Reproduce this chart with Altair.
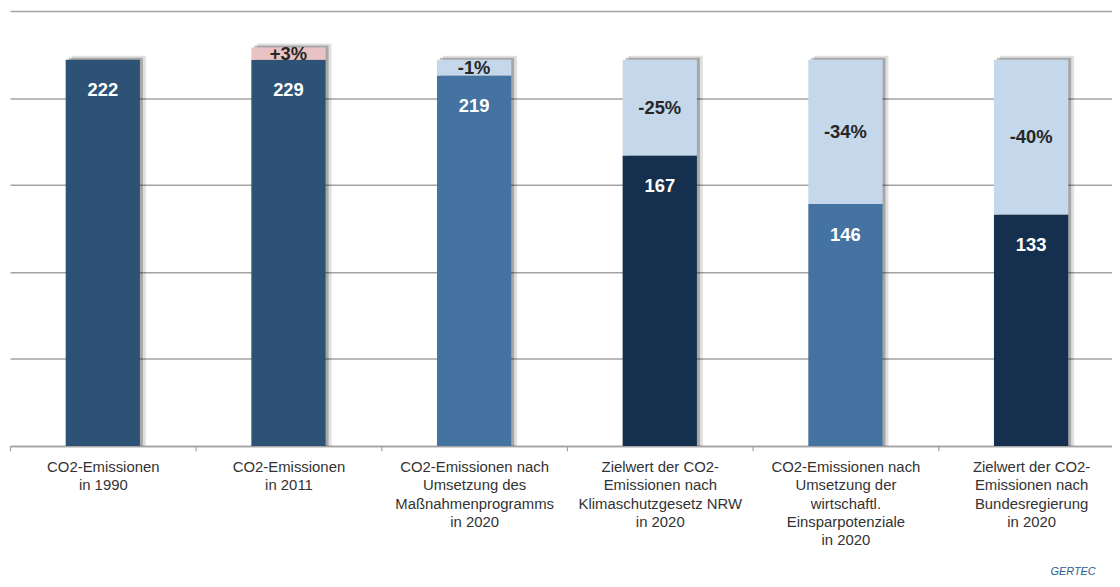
import altair as alt
import pandas as pd

# ---- data ----
categories = [
    "CO2-Emissionen|in 1990",
    "CO2-Emissionen|in 2011",
    "CO2-Emissionen nach|Umsetzung des|Maßnahmenprogramms|in 2020",
    "Zielwert der CO2-|Emissionen nach|Klimaschutzgesetz NRW|in 2020",
    "CO2-Emissionen nach|Umsetzung der|wirtschaftl.|Einsparpotenziale|in 2020",
    "Zielwert der CO2-|Emissionen nach|Bundesregierung|in 2020",
]
base_values = [222, 222, 213, 167, 139, 133]      # height of the main (dark) segment
top_values = [222, 229, 222, 222, 222, 222]       # top of the whole bar
value_labels = ["222", "229", "219", "167", "146", "133"]
pct_labels = ["", "+3%", "-1%", "-25%", "-34%", "-40%"]
base_colors = ["#2E5276", "#2E5276", "#4472A1", "#15304F", "#4472A1", "#15304F"]
cap_colors = ["#C4D7EB", "#E9C3C3", "#C4D7EB", "#C4D7EB", "#C4D7EB", "#C4D7EB"]

df = pd.DataFrame({
    "cat": categories,
    "base": base_values,
    "top": top_values,
    "vlabel": value_labels,
    "plabel": pct_labels,
    "bcolor": base_colors,
    "ccolor": cap_colors,
})
df["mid"] = (df["base"] + df["top"]) / 2

FONT = "Liberation Sans"
GRID = "#A3A3A3"

x_enc = alt.X(
    "cat:N",
    sort=categories,
    scale=alt.Scale(range=[0, 1122], paddingInner=0, paddingOuter=0),
    axis=alt.Axis(
        title=None,
        labelAngle=0,
        labelExpr="split(datum.label, '|')",
        labelFont=FONT,
        labelFontSize=15,
        labelColor="#333333",
        labelPadding=9,
        labelLineHeight=18.3,
        labelLimit=260,
        labelOverlap=False,
        tickBand="extent",
        tickColor=GRID,
        tickSize=5,
        tickWidth=1.2,
        domainColor=GRID,
        domainWidth=1.5,
    ),
)
y_scale = alt.Scale(domain=[0, 250], nice=False)
y_axis = alt.Axis(
    title=None, labels=False, ticks=False, domain=False,
    values=[0, 50, 100, 150, 200, 250], grid=True,
    gridColor=GRID, gridWidth=1.5,
)

base = alt.Chart(df)

shadow1 = base.mark_bar(
    width=alt.RelativeBandSize(0.4), color="#000000", opacity=0.12,
    xOffset=6, yOffset=-4,
).encode(x=x_enc, y=alt.Y("top:Q", scale=y_scale, axis=y_axis), y2=alt.datum(0))

shadow2 = base.mark_bar(
    width=alt.RelativeBandSize(0.4), color="#000000", opacity=0.25,
    xOffset=3, yOffset=-2,
).encode(x=x_enc, y=alt.Y("top:Q", scale=y_scale, axis=y_axis), y2=alt.datum(0))

caps = base.transform_filter("datum.top > datum.base").mark_bar(
    width=alt.RelativeBandSize(0.4)
).encode(
    x=x_enc,
    y=alt.Y("top:Q", scale=y_scale, axis=y_axis),
    y2="base:Q",
    color=alt.Color("ccolor:N", scale=None),
)

bars = base.mark_bar(width=alt.RelativeBandSize(0.4)).encode(
    x=x_enc,
    y=alt.Y("base:Q", scale=y_scale, axis=y_axis),
    y2=alt.datum(0),
    color=alt.Color("bcolor:N", scale=None),
)

vtext = base.mark_text(
    font=FONT, fontSize=18.5, fontWeight="bold", color="#FFFFFF",
    baseline="middle", dy=31,
).encode(x=x_enc, y=alt.Y("base:Q", scale=y_scale), text="vlabel:N")

ptext = base.transform_filter("datum.plabel != ''").mark_text(
    font=FONT, fontSize=18.5, fontWeight="bold", color="#262626",
    baseline="middle",
).encode(x=x_enc, y=alt.Y("mid:Q", scale=y_scale), text="plabel:N")

logo = alt.Chart(pd.DataFrame({"t": ["GERTEC"]})).mark_text(
    font=FONT, fontSize=11, fontStyle="italic", color="#2A5C8F", align="left",
    baseline="middle",
).encode(x=alt.value(1048), y=alt.value(565), text="t:N")

chart = alt.layer(shadow1, shadow2, bars, caps, vtext, ptext, logo).properties(
    width=1110,
    height=438,
    autosize=alt.AutoSizeParams(type="none"),
    padding={"left": 2, "top": 1, "right": 0, "bottom": 132},
).configure_view(stroke=None)

chart.save("out.html", embed_options={"renderer": "svg", "actions": False})
